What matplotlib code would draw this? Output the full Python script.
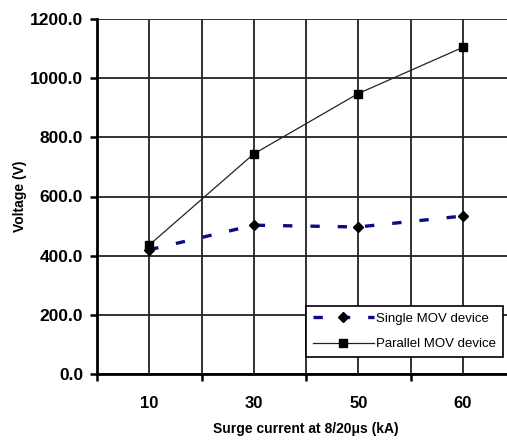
import numpy as np
import matplotlib
matplotlib.use("Agg")
import matplotlib.pyplot as plt

plt.rcParams['font.family'] = ['Liberation Sans', 'DejaVu Sans']

# surge current categories (kA)
categories = ['10', '30', '50', '60']
single_mov = [420, 503, 497, 534]
parallel_mov = [436, 744, 948, 1104]
y_ticks = [0, 200, 400, 600, 800, 1000, 1200]

fig = plt.figure(figsize=(5.07, 4.43), dpi=100)
ax = fig.add_axes([97 / 507, 69 / 443, 418 / 507, 355 / 443])

x = np.arange(len(categories))

ax.plot(x, single_mov, color='#0c0c86', lw=2.4, dashes=(2.8, 5.4),
        dash_capstyle='butt', marker='D', markersize=5.5,
        markerfacecolor='black', markeredgecolor='black',
        label='Single MOV device', zorder=3)
ax.plot(x, parallel_mov, color='#222222', lw=0.9, marker='s', markersize=6,
        markerfacecolor='black', markeredgecolor='black',
        label='Parallel MOV device', zorder=4)

ax.set_xlim(-0.5, len(categories) - 0.5)
ax.set_ylim(0, 1200)

# category labels at centres, tick marks at boundaries
ax.set_xticks(x)
ax.set_xticklabels(categories, fontsize=12, fontweight='bold')
ax.tick_params(axis='x', which='major', length=0, pad=16)
ax.set_xticks(np.arange(-0.5, len(categories), 1.0), minor=True)
ax.tick_params(axis='x', which='minor', length=5, width=1.8, direction='out')

ax.set_yticks(y_ticks)
ax.set_yticklabels([f'{v:.1f}' for v in y_ticks], fontsize=12.5,
                   fontweight='bold')
ax.tick_params(axis='y', length=5, width=1.8, direction='out', pad=5)

ax.grid(True, which='both', color='#222222', lw=1.3)
ax.set_axisbelow(True)

for side in ['top', 'right']:
    ax.spines[side].set_visible(False)
for side in ['left', 'bottom']:
    ax.spines[side].set_linewidth(2)
    ax.spines[side].set_zorder(5)

ax.set_xlabel('Surge current at 8/20μs (kA)', fontsize=10, fontweight='bold',
              labelpad=8)
ax.set_ylabel('Voltage (V)', fontsize=10, fontweight='bold', labelpad=2)

leg = ax.legend(loc='lower right', bbox_to_anchor=(503 / 507, 86 / 443),
                bbox_transform=fig.transFigure, fontsize=9.5, frameon=True,
                fancybox=False, edgecolor='black', framealpha=1,
                handlelength=4.6, handletextpad=0.2, borderpad=0.5,
                labelspacing=1.0, borderaxespad=0)
leg.get_frame().set_linewidth(1.2)

fig.savefig('out.png', dpi=100)
